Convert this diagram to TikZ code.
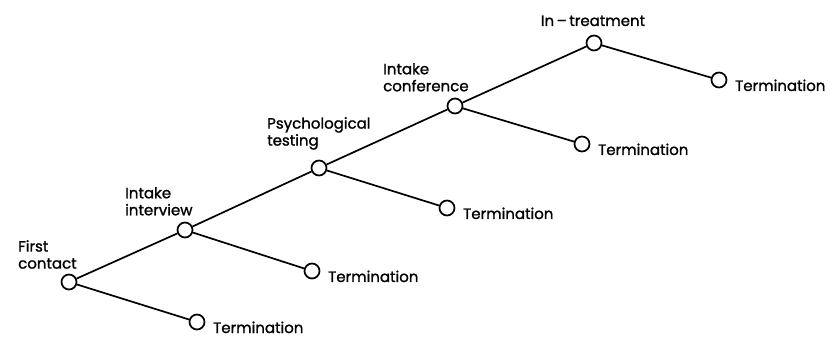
\documentclass[tikz,border=0pt]{standalone}
\usepackage{fontspec}
\setmainfont{Poppins}[BoldFont=*,BoldFeatures={FakeBold=1.2}]
\begin{document}
\begin{tikzpicture}[x=1pt,y=1pt,
  stage/.style={circle,draw,line width=1.7pt,minimum size=15pt,inner sep=0pt},
  link/.style={line width=1.7pt},
  lbl/.style={font=\fontsize{15}{17}\selectfont\bfseries,inner sep=0pt},
  mlbl/.style={lbl,align=left,anchor=north west}]
\useasboundingbox (0,0) rectangle (834,337);
% circles
\node[stage] (fc) at (69,55) {};
\node[stage] (ii) at (185,107) {};
\node[stage] (pt) at (319,169) {};
\node[stage] (ic) at (455,231) {};
\node[stage] (it) at (594,294) {};
\node[stage] (t1) at (197,15) {};
\node[stage] (t2) at (312,66) {};
\node[stage] (t3) at (447,129) {};
\node[stage] (t4) at (582,193) {};
\node[stage] (t5) at (719,257) {};
% connectors
\draw[link] (fc) -- (ii);
\draw[link] (fc) -- (t1);
\draw[link] (ii) -- (pt);
\draw[link] (ii) -- (t2);
\draw[link] (pt) -- (ic);
\draw[link] (pt) -- (t3);
\draw[link] (ic) -- (it);
\draw[link] (ic) -- (t4);
\draw[link] (it) -- (t5);
% labels
\node[mlbl] (lfc) at (18,97) {First\\contact};
\node[mlbl] (lii) at (125,150) {Intake\\interview};
\node[mlbl] (lpt) at (267,220) {Psychological\\testing};
\node[mlbl] (lic) at (383,274) {Intake\\conference};
\node[lbl,anchor=base] (lit) at (593,311) {In\,–\,treatment};
\node[lbl,anchor=base west] (lt1) at ([xshift=16pt,yshift=-11pt]t1.center) {Termination};
\node[lbl,anchor=base west] (lt2) at ([xshift=16pt,yshift=-11pt]t2.center) {Termination};
\node[lbl,anchor=base west] (lt3) at ([xshift=16pt,yshift=-11pt]t3.center) {Termination};
\node[lbl,anchor=base west] (lt4) at ([xshift=16pt,yshift=-11pt]t4.center) {Termination};
\node[lbl,anchor=base west] (lt5) at ([xshift=16pt,yshift=-11pt]t5.center) {Termination};
\end{tikzpicture}
\end{document}
